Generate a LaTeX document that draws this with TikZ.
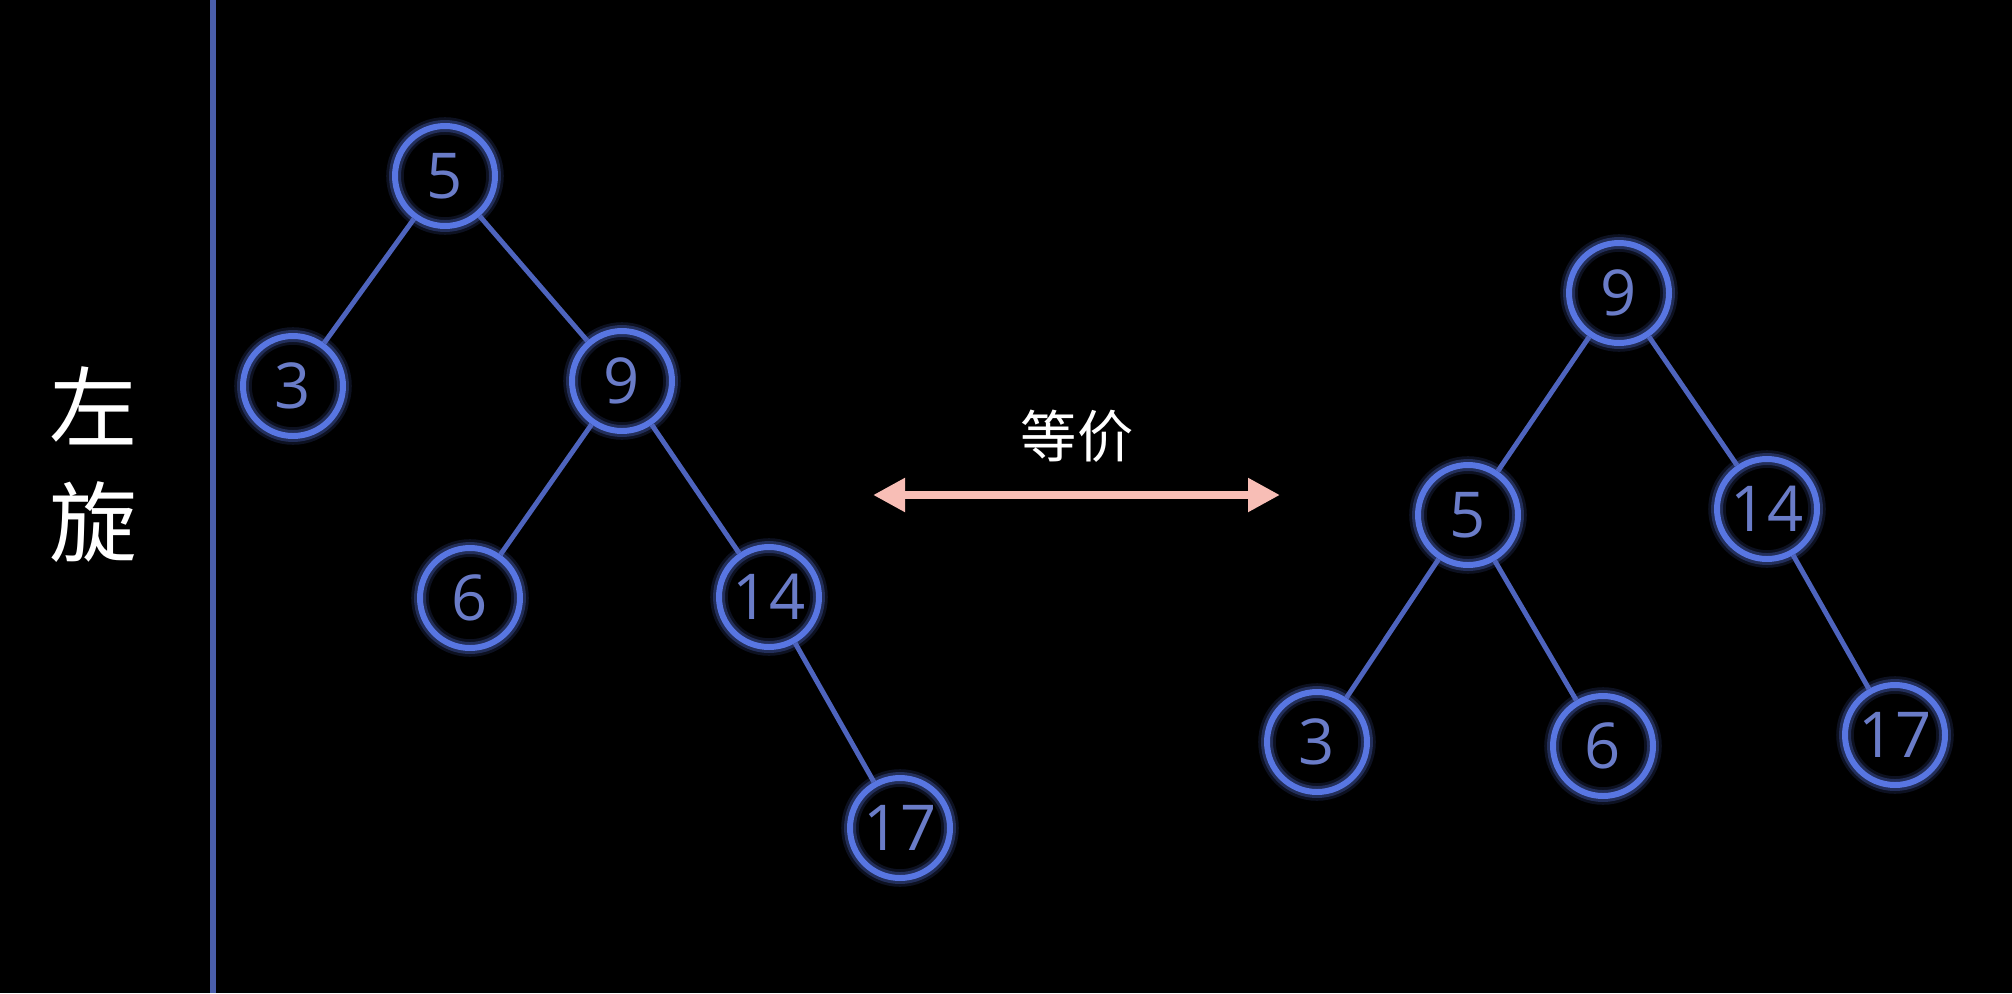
\documentclass[tikz,border=0pt]{standalone}
\usepackage{fontspec}
\setmainfont{Open Sans}
\newfontfamily\cjkfont{Noto Sans CJK SC}
\usepackage{tikz}
\usetikzlibrary{arrows.meta}

\definecolor{nodeblue}{RGB}{88,118,226}
\definecolor{edgeblue}{RGB}{78,100,190}
\definecolor{numblue}{RGB}{106,124,200}
\definecolor{barblue}{RGB}{74,94,170}
\definecolor{arrowpink}{RGB}{248,190,182}

\tikzset{
  treenode/.style={circle,draw=nodeblue,line width=1.7pt,minimum size=1.0cm,inner sep=0pt,
    text=numblue,font=\fontsize{18}{18}\selectfont,
    preaction={draw=nodeblue,line width=5pt,opacity=0.15},
    preaction={draw=nodeblue,line width=3.4pt,opacity=0.3}},
  treeedge/.style={draw=edgeblue,line width=1.4pt},
  cjklabel/.style={text=white,font=\cjkfont\fontsize{25}{25}\selectfont,inner sep=0pt}
}

\begin{document}
\begin{tikzpicture}[>=Latex]
\fill[black] (0,0) rectangle (20.12,-9.93);
\useasboundingbox (0,0) rectangle (20.12,-9.93);
\draw[barblue,line width=1.7pt] (2.13,0) -- (2.13,-9.93);
\node[cjklabel] (rot1) at (0.93,-4.06) {左};
\node[cjklabel] (rot2) at (0.93,-5.22) {旋};
% left tree
\node[treenode] (l5) at (4.45,-1.76) {5};
\node[treenode] (l3) at (2.93,-3.86) {3};
\node[treenode] (l9) at (6.22,-3.81) {9};
\node[treenode] (l6) at (4.70,-5.98) {6};
\node[treenode] (l14) at (7.69,-5.97) {14};
\node[treenode] (l17) at (9.00,-8.28) {17};
\draw[treeedge] (l5)--(l3);
\draw[treeedge] (l5)--(l9);
\draw[treeedge] (l9)--(l6);
\draw[treeedge] (l9)--(l14);
\draw[treeedge] (l14)--(l17);
% equivalence arrow
\node[cjklabel,font=\cjkfont\fontsize{16}{16}\selectfont] (eq) at (10.77,-4.36) {等价};
\coordinate (eqa) at (8.73,-4.95);
\coordinate (eqb) at (12.80,-4.95);
\draw[arrowpink,line width=2.5pt,{Triangle[length=3.2mm,width=3.2mm]}-{Triangle[length=3.2mm,width=3.2mm]}] (eqa)--(eqb);
% right tree
\node[treenode] (r9) at (16.19,-2.93) {9};
\node[treenode] (r5) at (14.68,-5.15) {5};
\node[treenode] (r14) at (17.67,-5.09) {14};
\node[treenode] (r3) at (13.17,-7.42) {3};
\node[treenode] (r6) at (16.03,-7.46) {6};
\node[treenode] (r17) at (18.95,-7.35) {17};
\draw[treeedge] (r9)--(r5);
\draw[treeedge] (r9)--(r14);
\draw[treeedge] (r5)--(r3);
\draw[treeedge] (r5)--(r6);
\draw[treeedge] (r14)--(r17);
\end{tikzpicture}
\end{document}
